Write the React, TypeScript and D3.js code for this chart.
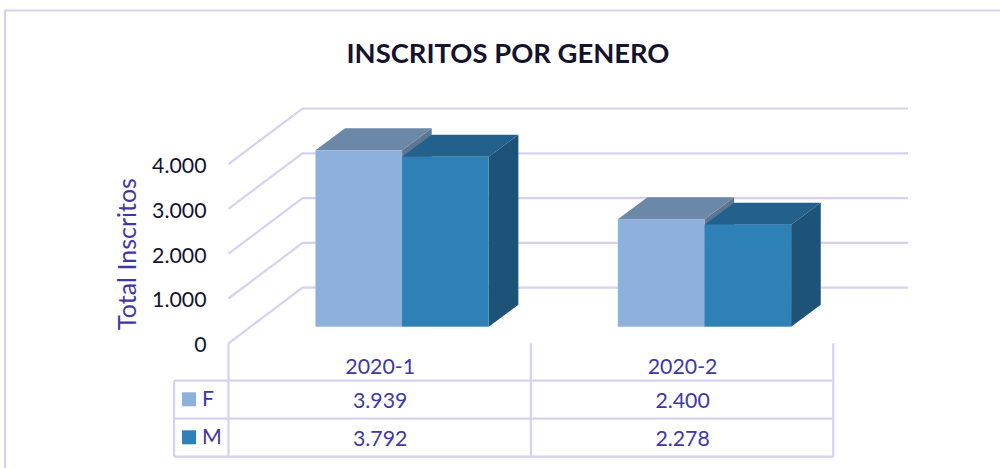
import React from "react";
import * as d3 from "d3";

const categories = ["2020-1", "2020-2"];
const seriesNames = ["F", "M"];
const valuesF = [3939, 2400];
const valuesM = [3792, 2278];
const ticks = [0, 1000, 2000, 3000, 4000];
const title = "INSCRITOS POR GENERO";
const axisTitle = "Total Inscritos";

const FONT = "Lato, 'Open Sans', sans-serif";
const GRID = "#d6d1f2";
const LABEL = "#3f37a5";
const DARK = "#15122e";
const seriesColors = [
  { front: "#8db1db", top: "#6b88a8", side: "#5f7690" },
  { front: "#2e81b7", top: "#22618c", side: "#1c5376" },
];

const fmt = (v: number) => d3.format(",")(v).replace(/,/g, ".");

export default function App() {
  const W = 1000, H = 468;
  const x0 = 228.5, x1 = 833.3, floorY = 343.3;
  const wallDx = 74, wallDy = -55.6, wallRight = 908;
  const barDx = 29.6, barDy = -22;
  const shiftDx = 22.4, shiftDy = -16.6;

  const xBand = d3.scaleBand<string>().domain(categories).range([x0, x1]);
  const xSeries = d3.scaleBand<string>().domain(seriesNames).range([0, 173.3]);
  const yHeight = d3.scaleLinear().domain([0, 4000]).range([0, 179.2]);
  const rowY = [380.7, 418.7, 456.7];
  const rows = [valuesF, valuesM];
  const poly = (pts: number[][]) => d3.line()(pts as [number, number][]) + "Z";

  return (
    <svg width={W} height={H} viewBox={`0 0 ${W} ${H}`} style={{ position: "absolute", left: 0, top: 0, background: "#fff" }} fontFamily={FONT}>
      <path d={`M5,${H}V10.5H${W}`} fill="none" stroke={GRID} strokeWidth={2.2} />
      <text x={508} y={62.5} textAnchor="middle" fontSize={27.4} fontWeight={700} fill={DARK}>{title}</text>

      {ticks.map((t) => {
        const yF = floorY - yHeight(t);
        return (
          <g key={t}>
            <path d={`M${x0},${yF}L${x0 + wallDx},${yF + wallDy}H${wallRight}`} fill="none" stroke={GRID} strokeWidth={2.2} />
            <text x={206.5} y={yF + 1.5} dy="0.35em" textAnchor="end" fontSize={21.3} fill={DARK}>{fmt(t)}</text>
          </g>
        );
      })}

      <text transform="translate(127,254) rotate(-90)" textAnchor="middle" dy="0.35em" fontSize={25} fill={LABEL}>{axisTitle}</text>

      {categories.map((c, ci) => {
        const start = xBand(c)! + (xBand.bandwidth() - xSeries.range()[1]) / 2 + shiftDx;
        const base = floorY + shiftDy;
        return (
          <g key={c}>
            {rows.map((vals, si) => {
              const bx = start + xSeries(seriesNames[si])!;
              const w = xSeries.bandwidth();
              const top = base - yHeight(vals[ci]);
              const col = seriesColors[si];
              return (
                <g key={si}>
                  <path d={poly([[bx + w, top], [bx + w + barDx, top + barDy], [bx + w + barDx, base + barDy], [bx + w, base]])} fill={col.side} />
                  <path d={poly([[bx, top], [bx + barDx, top + barDy], [bx + w + barDx, top + barDy], [bx + w, top]])} fill={col.top} />
                  <rect x={bx} y={top} width={w} height={base - top} fill={col.front} />
                </g>
              );
            })}
          </g>
        );
      })}

      {/* data table */}
      <g fill="none" stroke={GRID} strokeWidth={2.2}>
        {[x0, xBand(categories[1])!, x1].map((x, i) => (
          <line key={i} x1={x} x2={x} y1={floorY} y2={rowY[2]} />
        ))}
        {rowY.map((y) => <line key={y} x1={174} x2={x1} y1={y} y2={y} />)}
        <line x1={174} x2={174} y1={rowY[0]} y2={rowY[2]} />
      </g>
      {categories.map((c) => (
        <text key={c} x={xBand(c)! + xBand.bandwidth() / 2 + 0.5} y={366.5} dy="0.35em" textAnchor="middle" fontSize={21.3} fill={LABEL}>{c}</text>
      ))}
      {seriesNames.map((s, si) => (
        <g key={s}>
          <rect x={182} y={rowY[si] + 11.6} width={14} height={14} fill={seriesColors[si].front} />
          <text x={202} y={rowY[si] + 18} dy="0.35em" fontSize={21.3} fill={LABEL}>{s}</text>
          {categories.map((c, ci) => (
            <text key={c} x={xBand(c)! + xBand.bandwidth() / 2 + 0.5} y={rowY[si] + 20} dy="0.35em" textAnchor="middle" fontSize={21.3} fill={LABEL}>{fmt(rows[si][ci])}</text>
          ))}
        </g>
      ))}
    </svg>
  );
}
